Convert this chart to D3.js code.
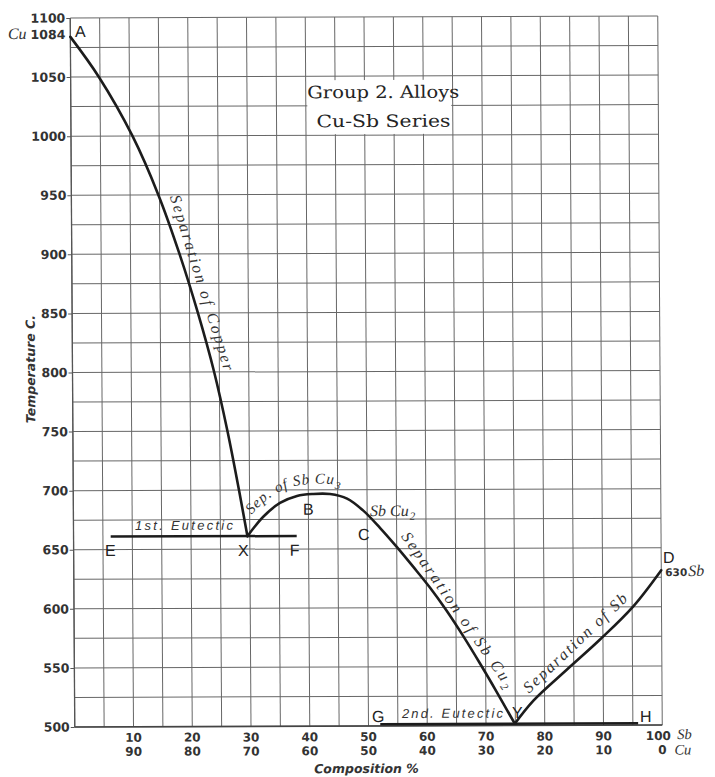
<!DOCTYPE html>
<html><head><meta charset="utf-8">
<script src="https://cdn.jsdelivr.net/npm/d3@7"></script>
<style>body{margin:0;background:#fff} svg{display:block;background:#fff}</style>
</head><body><svg id="c" width="715" height="777"></svg>
<script>
// ---- data ----
const tempTicks = [500,550,600,650,700,750,800,850,900,950,1000,1050,1100];
const compSbTicks = [10,20,30,40,50,60,70,80,90,100];
const compCuTicks = [90,80,70,60,50,40,30,20,10,0];
const copperLiquidus = [[0,1084],[4.81,1050],[10.46,1000],[14.81,950],[18.34,900],[21.41,850],[24.11,800],[26.31,750],[28.21,700],[29.6,661]];
const compoundLiquidus = [[29.6,661],[32.27,677.2],[35.18,689],[38.08,694.9],[40.8,696.5],[43.7,696.4],[46.6,692.5],[49.3,682.5],[52.2,667.5],[55,651.5],[57.8,634.5],[60.6,617],[63.4,597.5],[66.2,576],[69,553],[71.8,529],[74.9,501.5]];
const antimonyLiquidus = [[74.9,501.5],[78.1,521],[83.8,547],[89.5,572.5],[95.2,600.5],[100,631]];
const eutecticTemps = [661, 501.5];
const eutecticSpans = [[6.32,37.98],[52.0,95.9]];
const meltingPoints = {Cu:1084, Sb:630};

// ---- layout ----
const svg = d3.select("#c");
// slight skew of the scanned original
const root = svg.append("g").attr("transform","matrix(1,-0.0034,0.00635,1,-2.36,1.24)");
const x = d3.scaleLinear().domain([0,100]).range([72.5,660]);
const y = d3.scaleLinear().domain([500,1100]).range([726,17]);
const ink = "#1c1c1c";
const serif = "'DejaVu Serif', 'Liberation Serif', serif";
const iserif = "'Liberation Serif', serif";
const sans = "'DejaVu Sans', sans-serif";
const lsans = "'Liberation Sans', sans-serif";

// grid
const grid = root.append("g").attr("stroke","#676767").attr("stroke-width",1);
grid.selectAll("line.v").data(d3.range(0,101,5)).join("line")
  .attr("x1",d=>x(d)).attr("x2",d=>x(d)).attr("y1",y(500)).attr("y2",y(1100));
grid.selectAll("line.h").data(d3.range(500,1101,25)).join("line")
  .attr("x1",x(0)).attr("x2",x(100)).attr("y1",d=>y(d)).attr("y2",d=>y(d));
root.append("line").attr("x1",x(0)).attr("x2",x(100)).attr("y1",y(500)).attr("y2",y(500))
  .attr("stroke","#444").attr("stroke-width",1.6);
root.append("line").attr("x1",x(0)).attr("x2",x(0)).attr("y1",y(500)).attr("y2",y(1100))
  .attr("stroke","#555").attr("stroke-width",1.3);

// title box
root.append("rect").attr("x",309).attr("y",80).attr("width",144).attr("height",54).attr("fill","#fff");
root.append("text").attr("x",385).attr("y",98).attr("text-anchor","middle")
  .attr("font-family",serif).attr("font-size",17).attr("fill","#242424")
  .attr("textLength",152).attr("lengthAdjust","spacingAndGlyphs").text("Group 2. Alloys");
root.append("text").attr("x",385).attr("y",127).attr("text-anchor","middle")
  .attr("font-family",serif).attr("font-size",17).attr("fill","#242424")
  .attr("textLength",134).attr("lengthAdjust","spacingAndGlyphs").text("Cu-Sb Series");

// y axis
const yAxis = root.append("g").attr("transform",`translate(${x(0)},0)`)
  .call(d3.axisLeft(y).tickValues(tempTicks).tickSize(4).tickPadding(1).tickFormat(d3.format("d")));
yAxis.select(".domain").remove();
yAxis.selectAll("line").attr("stroke","#555");
yAxis.selectAll("text").attr("font-family",sans).attr("font-weight","bold").attr("font-size",12.5).attr("fill","#333");
root.append("text").attr("x",x(0)-5).attr("y",y(meltingPoints.Cu)+2).attr("text-anchor","end")
  .attr("font-family",sans).attr("font-weight","bold").attr("font-size",12.5).attr("fill","#333").text(meltingPoints.Cu);
root.append("text").attr("x",10).attr("y",y(meltingPoints.Cu)+2)
  .attr("font-family",iserif).attr("font-style","italic").attr("font-size",16).attr("fill","#333").text("Cu");

// x axis labels
const xl = root.append("g").attr("font-family",sans).attr("font-weight","bold").attr("font-size",12).attr("fill","#333").attr("text-anchor","middle");
xl.selectAll("text.sb").data(compSbTicks).join("text").attr("x",d=>x(d) - (d===100?4:0)).attr("y",741).text(d=>d);
xl.selectAll("text.cu").data(compCuTicks).join("text").attr("x",(d,i)=>x(compSbTicks[i])).attr("y",755).text(d=>d);
root.append("text").attr("x",x(100)+15).attr("y",740).attr("font-family",iserif).attr("font-style","italic").attr("font-size",14.5).attr("fill","#333").text("Sb");
root.append("text").attr("x",x(100)+12).attr("y",755.5).attr("font-family",iserif).attr("font-style","italic").attr("font-size",14.5).attr("fill","#333").text("Cu");

// axis titles
root.append("text").attr("x",364).attr("y",773).attr("text-anchor","middle")
  .attr("font-family",sans).attr("font-weight","bold").attr("font-style","italic").attr("font-size",12.5).attr("fill","#333").text("Composition %");
root.append("text").attr("transform","translate(35,368) rotate(-90)").attr("text-anchor","middle")
  .attr("font-family",sans).attr("font-weight","bold").attr("font-style","italic").attr("font-size",12.5).attr("fill","#333").text("Temperature C.");

// curves
const line = d3.line().x(d=>x(d[0])).y(d=>y(d[1])).curve(d3.curveCatmullRom.alpha(0.5));
[copperLiquidus, compoundLiquidus, antimonyLiquidus].forEach(data=>{
  root.append("path").datum(data).attr("d",line).attr("fill","none").attr("stroke",ink).attr("stroke-width",2.6).attr("stroke-linecap","round");
});
eutecticSpans.forEach((s,i)=>{
  root.append("line").attr("x1",x(s[0])).attr("x2",x(s[1])).attr("y1",y(eutecticTemps[i])).attr("y2",y(eutecticTemps[i]))
    .attr("stroke",ink).attr("stroke-width",2.5);
});

// point letters
const letters = [["A",0.79,1083.9],["E",5.33,644.6],["X",27.97,644.3],["F",36.8,644.2],["B",39.08,679],["C",48.4,657.4],["G",50.6,503.4],["Y",74.43,506.4],["H",96.2,502.6],["D",100.3,637.1]];
root.append("g").selectAll("text").data(letters).join("text")
  .attr("x",d=>x(d[1])).attr("y",d=>y(d[2]))
  .attr("font-family",lsans).attr("font-size",16).attr("fill","#222").text(d=>d[0]);
root.append("text").attr("x",664).attr("y",577).attr("font-family",sans).attr("font-weight","bold").attr("font-size",10.5).attr("fill","#333").text(meltingPoints.Sb);
root.append("text").attr("x",687).attr("y",577).attr("font-family",iserif).attr("font-style","italic").attr("font-size",16).attr("fill","#333").text("Sb");

// eutectic labels
root.append("text").attr("x",x(10.47)).attr("y",y(666.5)).attr("font-family",lsans).attr("font-style","italic").attr("font-size",13)
  .attr("fill","#333").attr("textLength",98).text("1st. Eutectic");
root.append("text").attr("x",x(55.7)).attr("y",y(506.7)).attr("font-family",lsans).attr("font-style","italic").attr("font-size",13)
  .attr("fill","#333").attr("textLength",101).text("2nd. Eutectic");

// labels along curves
function interp(arr, xv){
  for(let i=1;i<arr.length;i++){
    if(xv<=arr[i][0]){const a=arr[i-1],b=arr[i];return a[1]+(b[1]-a[1])*(xv-a[0])/(b[0]-a[0]);}
  }
  return arr[arr.length-1][1];
}
function alongLabel(arr, x0, x1, off, parts, size){
  const p0=[x(x0),y(interp(arr,x0))], p1=[x(x1),y(interp(arr,x1))];
  const a=Math.atan2(p1[1]-p0[1],p1[0]-p0[0]);
  const len=Math.hypot(p1[0]-p0[0],p1[1]-p0[1]);
  const mx=(p0[0]+p1[0])/2 + Math.sin(a)*off, my=(p0[1]+p1[1])/2 - Math.cos(a)*off;
  const t=root.append("text").attr("transform",`translate(${mx},${my}) rotate(${a*180/Math.PI})`)
    .attr("text-anchor","middle").attr("font-family",iserif).attr("font-style","italic")
    .attr("font-size",size).attr("fill","#333").attr("textLength",len);
  parts.forEach(p=>{
    const ts=t.append("tspan").text(p[0]);
    if(p[1]){ts.attr("font-size",size*0.7).attr("dy",4);}
  });
}
alongLabel(copperLiquidus,15.1,24.2,10,[["Separation of Copper"]],16);
alongLabel(compoundLiquidus,54.3,72.1,10,[["Separation of Sb Cu"],["2",1]],16);
alongLabel(antimonyLiquidus,78.3,95.3,8,[["Separation of Sb"]],16);

// curved label over X-B
const offPts = [];
const seg = compoundLiquidus.filter(d=>d[0]<=52.2).map(d=>[x(d[0]),y(d[1])]);
seg.forEach((p,i)=>{
  const q0=seg[Math.max(0,i-1)], q1=seg[Math.min(seg.length-1,i+1)];
  const dx=q1[0]-q0[0], dy=q1[1]-q0[1], L=Math.hypot(dx,dy);
  offPts.push([p[0]+dy/L*10, p[1]-dx/L*10]);
});
root.append("defs").append("path").attr("id","sepPath").attr("d",d3.line().curve(d3.curveCatmullRom)(offPts));
const tp = root.append("text").attr("font-family",iserif).attr("font-style","italic").attr("font-size",15).attr("fill","#333")
  .append("textPath").attr("href","#sepPath").attr("startOffset",19).attr("textLength",99);
tp.append("tspan").text("Sep. of Sb Cu");
tp.append("tspan").attr("font-size",10.5).attr("dx",1).attr("dy",4).text("3");

root.append("text").attr("x",x(50.5)).attr("y",y(677.7)).attr("font-family",iserif).attr("font-style","italic").attr("font-size",16).attr("fill","#333")
  .call(t=>{t.append("tspan").text("Sb Cu"); t.append("tspan").attr("font-size",11).attr("dx",1).attr("dy",4).text("2");});
</script>
</body></html>
